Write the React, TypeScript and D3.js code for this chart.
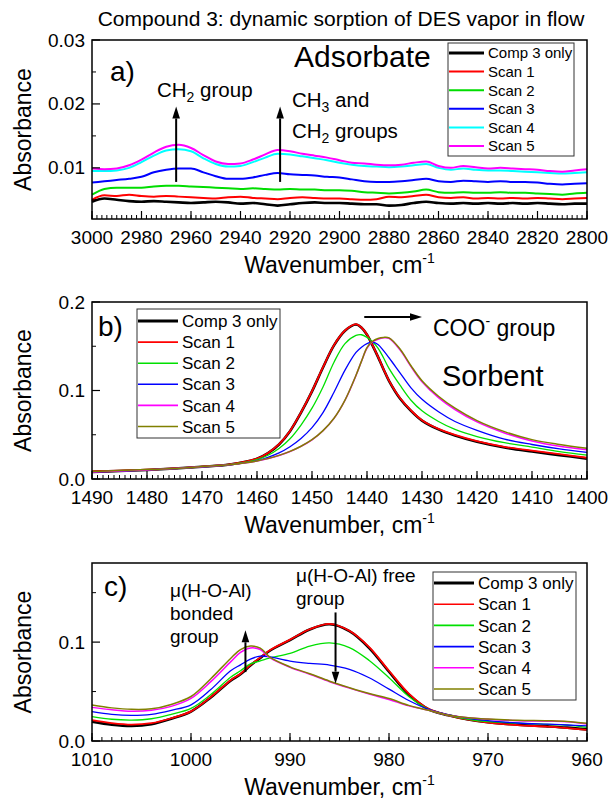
import React from "react";
import * as d3 from "d3";

const FONT = "'Liberation Sans', Arial, Helvetica, sans-serif";

// series names, shared by the three panels
const seriesNames = ["Comp 3 only", "Scan 1", "Scan 2", "Scan 3", "Scan 4", "Scan 5"];

// ---------- panel a) 3000 - 2800 cm-1 (adsorbate)
const wnA = [
  3000, 2995, 2990, 2985, 2980, 2975, 2970, 2965, 2960, 2955, 2950, 2945, 2940, 2935,
  2930, 2925, 2920, 2915, 2910, 2905, 2900, 2895, 2890, 2885, 2880, 2875, 2870, 2865,
  2860, 2855, 2850, 2845, 2840, 2835, 2830, 2825, 2820, 2815, 2810, 2805, 2800,
];
const aComp = [
  0.0047, 0.0052, 0.005, 0.0048, 0.0047, 0.0048, 0.0047, 0.0046, 0.0045, 0.0046, 0.0047, 0.0046, 0.0044, 0.0045,
  0.0043, 0.0041, 0.0043, 0.0045, 0.0046, 0.0045, 0.0045, 0.0044, 0.0043, 0.0043, 0.0041, 0.0042, 0.0045, 0.0047,
  0.0045, 0.0044, 0.0045, 0.0044, 0.0045, 0.0044, 0.0045, 0.0044, 0.0045, 0.0044, 0.0043, 0.0044, 0.0044,
];
const aScan1 = [
  0.005, 0.0057, 0.0056, 0.0058, 0.0056, 0.0055, 0.0056, 0.0055, 0.0054, 0.0053, 0.0052, 0.0054, 0.0055, 0.0053,
  0.0052, 0.0051, 0.0053, 0.0054, 0.0053, 0.0052, 0.0052, 0.0051, 0.005, 0.0051, 0.0055, 0.0054, 0.0056, 0.0058,
  0.0054, 0.0053, 0.0054, 0.0052, 0.0053, 0.0052, 0.0053, 0.0052, 0.0053, 0.0052, 0.0051, 0.0052, 0.0053,
];
const aScan2 = [
  0.0058, 0.0067, 0.0069, 0.0069, 0.0069, 0.0071, 0.0072, 0.0072, 0.0071, 0.007, 0.0069, 0.0068, 0.0067, 0.0068,
  0.0067, 0.0066, 0.0067, 0.0066, 0.0066, 0.0065, 0.0065, 0.0064, 0.0062, 0.0061, 0.006, 0.0061, 0.0063, 0.0066,
  0.0062, 0.0061, 0.0062, 0.0061, 0.0061, 0.0062, 0.0061, 0.0061, 0.006, 0.0059, 0.0058, 0.006, 0.0061,
];
const aScan3 = [
  0.0077, 0.0079, 0.0081, 0.0083, 0.0086, 0.0093, 0.0097, 0.0099, 0.0099, 0.0093, 0.0087, 0.0083, 0.0083, 0.0085,
  0.0089, 0.0092, 0.009, 0.0089, 0.0088, 0.0086, 0.0085, 0.0082, 0.0079, 0.0078, 0.0078, 0.0079, 0.0081, 0.0083,
  0.0079, 0.0078, 0.008, 0.0079, 0.0078, 0.0079, 0.0078, 0.0078, 0.0077, 0.0075, 0.0074, 0.0075, 0.0076,
];
const aScan4 = [
  0.0095, 0.0095, 0.0096, 0.01, 0.0109, 0.0119, 0.0127, 0.0129, 0.0126, 0.0115, 0.0106, 0.0102, 0.0103, 0.0109,
  0.0116, 0.0122, 0.0121, 0.0118, 0.0115, 0.0112, 0.0108, 0.0105, 0.0103, 0.0102, 0.0101, 0.0102, 0.0104, 0.0106,
  0.01, 0.0097, 0.0099, 0.0097, 0.0096, 0.0096, 0.0095, 0.0094, 0.0093, 0.0092, 0.0091, 0.0092, 0.0093,
];
const aScan5 = [
  0.0099, 0.0098, 0.0099, 0.0104, 0.0113, 0.0124, 0.0133, 0.0136, 0.0131, 0.012, 0.011, 0.0106, 0.0107, 0.0113,
  0.0121, 0.0128, 0.0126, 0.0122, 0.0119, 0.0116, 0.0112, 0.0108, 0.0107, 0.0105, 0.0104, 0.0105, 0.0108, 0.011,
  0.0103, 0.01, 0.0103, 0.0101, 0.0099, 0.01, 0.0099, 0.0098, 0.0097, 0.0095, 0.0094, 0.0096, 0.0098,
];

// ---------- panel b) 1490 - 1400 cm-1 (sorbent, COO-)
const wnB = [
  1490, 1485, 1480, 1475, 1470, 1465, 1460, 1458, 1456, 1454, 1452, 1450, 1448, 1446, 1444, 1442,
  1441, 1440, 1439, 1438, 1437, 1436, 1434, 1432, 1430, 1427, 1424, 1420, 1415, 1410, 1405, 1400,
];
const bComp = [
  0.008, 0.009, 0.0102, 0.0118, 0.0138, 0.0163, 0.0228, 0.0292, 0.039, 0.054, 0.075, 0.099, 0.126, 0.151, 0.1675, 0.1745,
  0.171, 0.163, 0.151, 0.138, 0.124, 0.111, 0.091, 0.077, 0.066, 0.056, 0.049, 0.042, 0.0355, 0.031, 0.027, 0.023,
];
const bScan1 = [
  0.0085, 0.0095, 0.0106, 0.012, 0.014, 0.0166, 0.023, 0.0295, 0.0393, 0.0543, 0.0753, 0.0993, 0.1263, 0.1513, 0.1678, 0.175,
  0.1712, 0.1632, 0.1512, 0.1382, 0.1242, 0.1112, 0.0915, 0.0775, 0.0665, 0.0566, 0.0498, 0.0428, 0.0363, 0.032, 0.028, 0.024,
];
const bScan2 = [
  0.008, 0.009, 0.0102, 0.0118, 0.0138, 0.0162, 0.0218, 0.0268, 0.0345, 0.0455, 0.061, 0.08, 0.104, 0.132, 0.153, 0.1622,
  0.163, 0.16, 0.155, 0.148, 0.137, 0.125, 0.106, 0.089, 0.077, 0.065, 0.056, 0.048, 0.041, 0.036, 0.031, 0.027,
];
const bScan3 = [
  0.008, 0.009, 0.0102, 0.0118, 0.0138, 0.016, 0.0208, 0.0245, 0.0295, 0.0365, 0.0458, 0.058, 0.075, 0.098, 0.123, 0.143,
  0.149, 0.153, 0.1545, 0.152, 0.145, 0.137, 0.12, 0.103, 0.09, 0.076, 0.065, 0.055, 0.045, 0.039, 0.034, 0.03,
];
const bScan4 = [
  0.008, 0.009, 0.0102, 0.0118, 0.0138, 0.016, 0.0202, 0.023, 0.0265, 0.031, 0.0368, 0.0442, 0.0545, 0.0685, 0.089, 0.117,
  0.133, 0.148, 0.155, 0.158, 0.1595, 0.159, 0.146, 0.127, 0.11, 0.092, 0.0785, 0.0645, 0.052, 0.043, 0.037, 0.033,
];
const bScan5 = [
  0.0085, 0.0095, 0.0106, 0.012, 0.014, 0.0162, 0.0204, 0.0232, 0.0267, 0.0312, 0.037, 0.0444, 0.0547, 0.0687, 0.0892, 0.1172,
  0.1332, 0.1485, 0.1555, 0.1588, 0.16, 0.1595, 0.147, 0.128, 0.111, 0.0935, 0.08, 0.066, 0.0535, 0.0445, 0.039, 0.0347,
];

// ---------- panel c) 1010 - 960 cm-1 (mu(H-O-Al))
const wnC = [
  1010, 1008, 1006, 1004, 1002, 1000, 998, 996, 995, 994, 993, 992, 990, 988,
  986, 984, 982, 980, 978, 976, 974, 972, 970, 967, 964, 962, 960,
];
const cComp = [
  0.0195, 0.0165, 0.0152, 0.017, 0.0225, 0.0298, 0.044, 0.061, 0.0675, 0.0764, 0.084, 0.0915, 0.102, 0.1128,
  0.118, 0.111, 0.094, 0.07, 0.047, 0.032, 0.026, 0.0218, 0.019, 0.0165, 0.0148, 0.0135, 0.0118,
];
const cScan1 = [
  0.021, 0.018, 0.0165, 0.018, 0.023, 0.03, 0.0445, 0.0615, 0.068, 0.0768, 0.0845, 0.092, 0.1025, 0.113,
  0.1185, 0.1115, 0.095, 0.071, 0.048, 0.0325, 0.026, 0.0215, 0.0185, 0.016, 0.0145, 0.013, 0.0112,
];
const cScan2 = [
  0.0246, 0.022, 0.0212, 0.0225, 0.027, 0.033, 0.047, 0.0645, 0.071, 0.078, 0.081, 0.084, 0.0886, 0.096,
  0.0993, 0.0945, 0.0815, 0.064, 0.045, 0.032, 0.026, 0.022, 0.0195, 0.018, 0.0168, 0.016, 0.0138,
];
const cScan3 = [
  0.0296, 0.027, 0.026, 0.027, 0.031, 0.0366, 0.052, 0.071, 0.077, 0.0828, 0.0859, 0.085, 0.0808, 0.0785,
  0.0768, 0.0725, 0.064, 0.0525, 0.041, 0.032, 0.0265, 0.023, 0.0205, 0.0182, 0.017, 0.0162, 0.0152,
];
const cScan4 = [
  0.034, 0.0315, 0.03, 0.031, 0.035, 0.043, 0.06, 0.08, 0.0895, 0.094, 0.0925, 0.084, 0.0745, 0.0675,
  0.06, 0.0535, 0.0475, 0.042, 0.0355, 0.031, 0.026, 0.0235, 0.022, 0.0205, 0.02, 0.0195, 0.0172,
];
const cScan5 = [
  0.0364, 0.0335, 0.032, 0.0325, 0.037, 0.045, 0.063, 0.0835, 0.0925, 0.096, 0.094, 0.0845, 0.075, 0.068,
  0.0605, 0.054, 0.048, 0.043, 0.036, 0.031, 0.026, 0.0235, 0.0222, 0.021, 0.0205, 0.0198, 0.0179,
];

const colorsA = ["#000000", "#ff0000", "#00dd00", "#0000ff", "#00ffff", "#ff00ff"];
const colorsBC = ["#000000", "#ff0000", "#00e000", "#0000ff", "#ff00ff", "#808000"];

// layout
const LEFT = 92;
const RIGHT = 587;

type PanelProps = {
  top: number;
  bottom: number;
  xDom: [number, number];
  yDom: [number, number];
  xMajor: number;
  xMinor: number;
  yMajor: number[];
  yMinor: number[];
  yFmt: (v: number) => string;
  wn: number[];
  series: number[][];
  colors: string[];
  widths: number[];
  curve: d3.CurveFactory;
  children?: (x: d3.ScaleLinear<number, number>, y: d3.ScaleLinear<number, number>) => React.ReactNode;
};

function Panel(p: PanelProps) {
  const x = d3.scaleLinear().domain(p.xDom).range([LEFT, RIGHT]);
  const y = d3.scaleLinear().domain(p.yDom).range([p.bottom, p.top]);
  const lo = Math.min(p.xDom[0], p.xDom[1]);
  const hi = Math.max(p.xDom[0], p.xDom[1]);
  const minorX = d3.range(lo, hi + p.xMinor / 2, p.xMinor);
  const majorX = d3.range(lo, hi + p.xMajor / 2, p.xMajor);
  const line = d3
    .line<number>()
    .x((_, i) => x(p.wn[i]))
    .y((d) => y(d))
    .curve(p.curve);

  return (
    <g>
      {p.series.map((s, i) => (
        <path key={i} d={line(s) || ""} fill="none" stroke={p.colors[i]} strokeWidth={p.widths[i]} strokeLinejoin="round" />
      ))}
      {/* x ticks, pointing in */}
      {minorX.map((v) => (
        <line key={"mx" + v} x1={x(v)} x2={x(v)} y1={p.bottom} y2={p.bottom - 4} stroke="#000" strokeWidth={1} />
      ))}
      {majorX.map((v) => (
        <g key={"Mx" + v}>
          <line x1={x(v)} x2={x(v)} y1={p.bottom} y2={p.bottom - 8} stroke="#000" strokeWidth={1.2} />
          <text x={x(v)} y={p.bottom + 25} textAnchor="middle" fontSize={19} fontFamily={FONT}>
            {v}
          </text>
        </g>
      ))}
      {/* y ticks */}
      {p.yMinor.map((v) => (
        <line key={"my" + v} x1={LEFT} x2={LEFT + 4} y1={y(v)} y2={y(v)} stroke="#000" strokeWidth={1} />
      ))}
      {p.yMajor.map((v) => (
        <g key={"My" + v}>
          <line x1={LEFT} x2={LEFT + 8} y1={y(v)} y2={y(v)} stroke="#000" strokeWidth={1.2} />
          <text x={LEFT - 7} y={y(v) + 6.5} textAnchor="end" fontSize={19} fontFamily={FONT}>
            {p.yFmt(v)}
          </text>
        </g>
      ))}
      <rect x={LEFT} y={p.top} width={RIGHT - LEFT} height={p.bottom - p.top} fill="none" stroke="#000" strokeWidth={1.5} />
      <text
        transform={`translate(31,${(p.top + p.bottom) / 2}) rotate(-90)`}
        textAnchor="middle"
        fontSize={23}
        fontFamily={FONT}
      >
        Absorbance
      </text>
      <text x={(LEFT + RIGHT) / 2} y={p.bottom + 54} textAnchor="middle" fontSize={23} fontFamily={FONT}>
        Wavenumber, cm<tspan dy={-10} fontSize={14}>-1</tspan>
      </text>
      {p.children ? p.children(x, y) : null}
    </g>
  );
}

type LegendProps = {
  x: number;
  y: number;
  w: number;
  h: number;
  first: number;
  step: number;
  lineLen: number;
  fontSize: number;
  colors: string[];
  widths: number[];
};

function Legend(l: LegendProps) {
  return (
    <g>
      <rect x={l.x} y={l.y} width={l.w} height={l.h} fill="#fff" stroke="#333" strokeWidth={1} />
      {seriesNames.map((n, i) => {
        const yy = l.y + l.first + i * l.step;
        return (
          <g key={n}>
            <line x1={l.x + 1} x2={l.x + 1 + l.lineLen} y1={yy} y2={yy} stroke={l.colors[i]} strokeWidth={l.widths[i]} />
            <text x={l.x + l.lineLen + 5} y={yy + l.fontSize * 0.36} fontSize={l.fontSize} fontFamily={FONT}>
              {n}
            </text>
          </g>
        );
      })}
    </g>
  );
}

function Arrow({ x1, y1, x2, y2 }: { x1: number; y1: number; x2: number; y2: number }) {
  const ang = Math.atan2(y2 - y1, x2 - x1);
  const len = 12;
  const half = 3.8;
  const bx = x2 - len * Math.cos(ang);
  const by = y2 - len * Math.sin(ang);
  const px = -Math.sin(ang) * half;
  const py = Math.cos(ang) * half;
  return (
    <g>
      <line x1={x1} y1={y1} x2={bx} y2={by} stroke="#000" strokeWidth={2} />
      <path d={`M${x2},${y2}L${bx + px},${by + py}L${bx - px},${by - py}Z`} fill="#000" />
    </g>
  );
}

const fmt2 = d3.format(".2f");
const fmt1 = d3.format(".1f");

export default function App() {
  return (
    <div style={{ position: "absolute", left: 0, top: 0, background: "#fff" }}>
      <svg width={611} height={801} viewBox="0 0 611 801" style={{ display: "block" }}>
        <rect width={611} height={801} fill="#fff" />
        <text x={341} y={26} textAnchor="middle" fontSize={21} fontFamily={FONT}>
          Compound 3: dynamic sorption of DES vapor in flow
        </text>

        {/* a) */}
        <Panel
          top={40}
          bottom={219}
          xDom={[3000, 2800]}
          yDom={[0.002, 0.03]}
          xMajor={20}
          xMinor={2}
          yMajor={[0.01, 0.02, 0.03]}
          yMinor={[0.005, 0.015, 0.025]}
          yFmt={fmt2}
          wn={wnA}
          series={[aComp, aScan1, aScan2, aScan3, aScan4, aScan5]}
          colors={colorsA}
          widths={[2.6, 2, 2, 2, 2, 2]}
          curve={d3.curveMonotoneX}
        >
          {(x, y) => (
            <g fontFamily={FONT}>
              <Arrow x1={x(2966)} y1={y(0.0078)} x2={x(2966)} y2={y(0.0196)} />
              <Arrow x1={x(2924)} y1={y(0.0078)} x2={x(2924)} y2={y(0.0196)} />
              <text x={110} y={81} fontSize={28}>a)</text>
              <text x={294} y={67} fontSize={30}>Adsorbate</text>
              <text x={157} y={97} fontSize={20.5}>
                CH<tspan dy={5} fontSize={14}>2</tspan>
                <tspan dy={-5}> group</tspan>
              </text>
              <text x={292} y={107} fontSize={20.5}>
                CH<tspan dy={5} fontSize={14}>3</tspan>
                <tspan dy={-5}> and</tspan>
              </text>
              <text x={292} y={138} fontSize={20.5}>
                CH<tspan dy={5} fontSize={14}>2</tspan>
                <tspan dy={-5}> groups</tspan>
              </text>
            </g>
          )}
        </Panel>
        <Legend x={448} y={43} w={126} h={113} first={10} step={18.6} lineLen={35} fontSize={15} colors={colorsA} widths={[3.2, 2, 2, 2, 2, 2]} />

        {/* b) */}
        <Panel
          top={302}
          bottom={479}
          xDom={[1490, 1400]}
          yDom={[0, 0.2]}
          xMajor={10}
          xMinor={1}
          yMajor={[0, 0.1, 0.2]}
          yMinor={[0.05, 0.15]}
          yFmt={fmt1}
          wn={wnB}
          series={[bComp, bScan1, bScan2, bScan3, bScan4, bScan5]}
          colors={colorsBC}
          widths={[2.6, 1.8, 1.3, 1.3, 1.5, 1.5]}
          curve={d3.curveCatmullRom.alpha(0.5)}
        >
          {(x, y) => (
            <g fontFamily={FONT}>
              <Arrow x1={x(1440.5)} y1={y(0.183)} x2={x(1430)} y2={y(0.183)} />
              <text x={98} y={336} fontSize={28}>b)</text>
              <text x={433} y={336} fontSize={23}>
                COO<tspan dy={-10} fontSize={14}>-</tspan>
                <tspan dy={10}> group</tspan>
              </text>
              <text x={442} y={386} fontSize={29}>Sorbent</text>
            </g>
          )}
        </Panel>
        <Legend x={137} y={309} w={143} h={129} first={12} step={21.1} lineLen={40} fontSize={17} colors={colorsBC} widths={[3.2, 1.6, 1.6, 1.6, 1.6, 1.6]} />

        {/* c) */}
        <Panel
          top={563}
          bottom={741}
          xDom={[1010, 960]}
          yDom={[0, 0.18]}
          xMajor={10}
          xMinor={1}
          yMajor={[0, 0.1]}
          yMinor={[0.05, 0.15]}
          yFmt={fmt1}
          wn={wnC}
          series={[cComp, cScan1, cScan2, cScan3, cScan4, cScan5]}
          colors={colorsBC}
          widths={[2.6, 1.8, 1.3, 1.3, 1.5, 1.5]}
          curve={d3.curveCatmullRom.alpha(0.5)}
        >
          {(x, y) => (
            <g fontFamily={FONT}>
              <Arrow x1={x(994.5)} y1={y(0.0697)} x2={x(994.5)} y2={y(0.112)} />
              <Arrow x1={x(985.4)} y1={y(0.130)} x2={x(985.4)} y2={y(0.058)} />
              <text x={104} y={596} fontSize={28}>c)</text>
              <text x={170} y={597} fontSize={19}>μ(H-O-Al)</text>
              <text x={170} y={620} fontSize={19}>bonded</text>
              <text x={170} y={643} fontSize={19}>group</text>
              <text x={296} y={582} fontSize={19}>μ(H-O-Al) free</text>
              <text x={296} y={605} fontSize={19}>group</text>
            </g>
          )}
        </Panel>
        <Legend x={433} y={572} w={143} h={128} first={11} step={21.2} lineLen={40} fontSize={17} colors={colorsBC} widths={[3.2, 1.6, 1.6, 1.6, 1.6, 1.6]} />
      </svg>
    </div>
  );
}
